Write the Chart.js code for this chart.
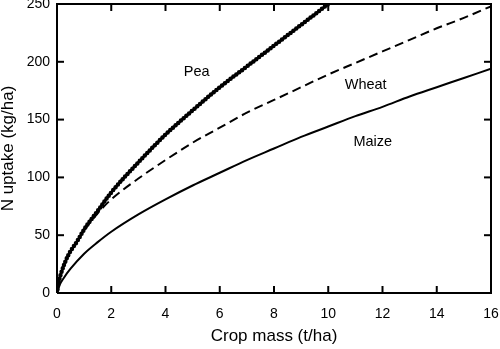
<!DOCTYPE html>
<html>

<head>
  <title>N uptake vs crop mass</title>
  <script src="https://cdn.jsdelivr.net/npm/chart.js"></script>
  <style>
    html, body { margin: 0; padding: 0; background: #fff; }
  </style>
</head>

<body>

  <canvas id="myChart" width="500" height="349"></canvas>

  <script>
    // values (t/ha -> kg N/ha)
    const peaMass = [0, 0.05, 0.15, 0.4, 0.75, 1, 1.5, 2, 3, 4, 5, 6, 7, 8, 9, 10];
    const peaN = [0, 8, 17, 32, 45, 55, 71, 87, 113, 137, 158, 178, 196, 214, 232, 250];

    const wheatMass = [0, 0.05, 0.15, 0.4, 0.75, 1, 1.5, 2, 3, 4, 5, 6, 7, 8, 9, 10, 11, 12, 13, 14, 15, 16];
    const wheatN = [0, 8, 17, 32, 45, 54, 69, 81, 99, 115, 130, 143, 156, 167, 178, 189, 199, 209, 219, 229, 238, 248];

    const maizeMass = [0, 0.1, 0.25, 0.5, 1, 1.5, 2, 3, 4, 5, 6, 7, 8, 9, 10, 11, 12, 13, 14, 15, 16];
    const maizeN = [0, 7, 13, 21, 34, 44, 53, 68, 81, 93, 104, 115, 125, 135, 144, 153, 161, 170, 178, 186, 194];

    const labelText = ["Pea", "Wheat", "Maize"];
    const labelMass = [5.15, 11.38, 11.64];
    const labelN = [191, 180, 131];

    const xTicks = [0, 2, 4, 6, 8, 10, 12, 14, 16];
    const yTicks = [0, 50, 100, 150, 200, 250];
    const X_MAX = 16, Y_MAX = 250;

    const pts = (xs, ys) => xs.map((x, i) => ({ x: x, y: ys[i] }));
    const FONT = "'Liberation Sans', Arial, Helvetica, sans-serif";

    // box round the plot, drawn as a line through the axis corners
    const boxData = [
      { x: 0, y: 0 }, { x: X_MAX, y: 0 }, { x: X_MAX, y: Y_MAX }, { x: 0, y: Y_MAX }, { x: 0, y: 0 }
    ];

    // inward tick marks as 'dash' points sitting on each edge
    const tickSet = (data, rot) => ({
      label: 'ticks',
      data: data,
      showLine: false,
      pointStyle: 'dash',
      pointRadius: 7,
      pointHoverRadius: 7,
      pointBorderWidth: 2,
      pointBorderColor: '#000',
      pointBackgroundColor: '#000',
      pointRotation: rot,
      clip: false,
    });

    // curve labels
    const labelPlugin = {
      id: 'curveLabels',
      afterDraw(chart) {
        const ctx = chart.ctx;
        const sx = chart.scales.x, sy = chart.scales.y;
        ctx.save();
        ctx.fillStyle = '#000';
        ctx.font = '14.5px ' + FONT;
        ctx.textAlign = 'center';
        ctx.textBaseline = 'middle';
        labelText.forEach((s, i) => {
          ctx.fillText(s, sx.getPixelForValue(labelMass[i]), sy.getPixelForValue(labelN[i]));
        });
        ctx.restore();
      }
    };

    const config = {
      type: 'line',
      data: {
        datasets: [
          {
            label: 'Pea',
            data: pts(peaMass, peaN),
            borderColor: '#000',
            borderWidth: 2.5,
            pointRadius: 0,
            cubicInterpolationMode: 'monotone',
          },
          {
            label: 'Pea dots',
            data: pts(peaMass, peaN),
            borderColor: '#000',
            borderWidth: 4.5,
            borderDash: [0, 3.6],
            borderCapStyle: 'round',
            pointRadius: 0,
            cubicInterpolationMode: 'monotone',
          },
          {
            label: 'Wheat',
            data: pts(wheatMass, wheatN),
            borderColor: '#000',
            borderWidth: 2,
            borderDash: [9, 5],
            pointRadius: 0,
            cubicInterpolationMode: 'monotone',
          },
          {
            label: 'Maize',
            data: pts(maizeMass, maizeN),
            borderColor: '#000',
            borderWidth: 2,
            pointRadius: 0,
            cubicInterpolationMode: 'monotone',
          },
          {
            label: 'box',
            data: boxData,
            borderColor: '#000',
            borderWidth: 2,
            borderJoinStyle: 'miter',
            pointRadius: 0,
            tension: 0,
            clip: false,
          },
          tickSet(xTicks.map(v => ({ x: v, y: 0 })), -90),
          tickSet(xTicks.map(v => ({ x: v, y: Y_MAX })), 90),
          tickSet(yTicks.map(v => ({ x: 0, y: v })), 0),
          tickSet(yTicks.map(v => ({ x: X_MAX, y: v })), 180),
        ],
      },
      options: {
        responsive: false,
        animation: false,
        events: [],
        devicePixelRatio: 1,
        layout: {
          autoPadding: false,
          padding: { top: 4, right: 9, left: 0, bottom: 0 },
        },
        scales: {
          x: {
            type: 'linear',
            min: 0,
            max: X_MAX,
            grid: { display: false, drawTicks: false },
            border: { display: false },
            ticks: {
              stepSize: 2,
              padding: 13,
              color: '#000',
              font: { family: FONT, size: 14 },
            },
            title: {
              display: true,
              text: 'Crop mass (t/ha)',
              color: '#000',
              font: { family: FONT, size: 17, lineHeight: 1 },
              padding: { top: 0, bottom: 4.5 },
            },
            afterFit(scale) {
              scale.height = 56;
              scale.paddingLeft = 0;
              scale.paddingRight = 0;
            },
          },
          y: {
            min: 0,
            max: Y_MAX,
            grid: { display: false, drawTicks: false },
            border: { display: false },
            ticks: {
              stepSize: 50,
              padding: 7,
              color: '#000',
              font: { family: FONT, size: 14 },
            },
            title: {
              display: true,
              text: 'N uptake (kg/ha)',
              color: '#000',
              font: { family: FONT, size: 17, lineHeight: 1 },
              padding: { top: 0, bottom: 0 },
            },
            afterFit(scale) {
              scale.width = 57;
              scale.paddingTop = 0;
              scale.paddingBottom = 0;
            },
          },
        },
        plugins: {
          legend: { display: false },
          tooltip: { enabled: false },
        },
      },
      plugins: [labelPlugin],
    };

    var myChart = new Chart(document.getElementById('myChart'), config);
  </script>
</body>

</html>
